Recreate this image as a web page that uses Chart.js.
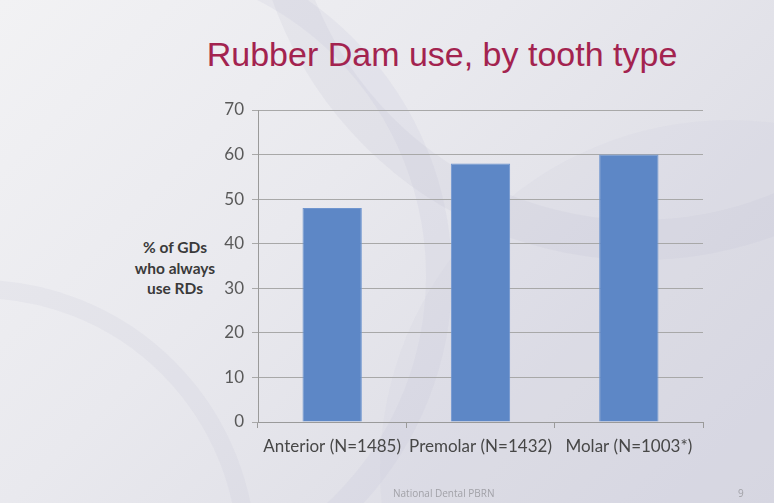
<!DOCTYPE html>
<html>
<head>
<meta charset="utf-8">
<script src="https://cdn.jsdelivr.net/npm/chart.js@4"></script>
<style>
  html, body { margin: 0; padding: 0; }
  body { width: 774px; height: 503px; position: relative; overflow: hidden;
         background: linear-gradient(135deg, #f2f2f4 0%, #e9e9ee 40%, #dedee6 75%, #d8d8e2 100%); }
  .swirl { position: absolute; border-radius: 50%; }
  #title { position: absolute; left: 0; width: 884px; top: 35px; text-align: center;
           font: 34px "Liberation Sans", Arial, sans-serif; color: #a3234f; }
  #ylab { position: absolute; left: 115px; width: 120px; top: 237px; text-align: center;
          font: bold 15.5px Lato, sans-serif; line-height: 20.5px; color: #3a3a3a; }
  #foot { position: absolute; left: 393px; top: 486px; font: 10px "Open Sans", sans-serif; color: #a2a2a8; }
  #page { position: absolute; left: 738px; top: 486px; font: 10px "Open Sans", sans-serif; color: #a2a2a8; }
  #wrap { position: absolute; left: 0; top: 0; width: 774px; height: 503px; }
</style>
</head>
<body>
<div class="swirl" style="left:-220px;top:-60px;width:620px;height:620px;border:26px solid rgba(195,195,215,0.18);"></div>
<div class="swirl" style="left:250px;top:-520px;width:700px;height:700px;border:40px solid rgba(185,185,208,0.16);"></div>
<div class="swirl" style="left:380px;top:120px;width:700px;height:700px;background:rgba(205,205,222,0.18);"></div>
<div class="swirl" style="left:-300px;top:280px;width:520px;height:520px;border:18px solid rgba(190,190,212,0.16);"></div>
<div id="title">Rubber Dam use, by tooth type</div>
<div id="ylab">% of GDs<br>who always<br>use RDs</div>
<div id="wrap"><canvas id="c" width="774" height="503"></canvas></div>
<div id="foot">National Dental PBRN</div>
<div id="page">9</div>
<script>
// 資料
const categories = ['Anterior (N=1485)', 'Premolar (N=1432)', 'Molar (N=1003*)'];
const values = [48, 58, 60];
const yTicks = [0, 10, 20, 30, 40, 50, 60, 70];

const ctx = document.getElementById('c');
const chart = new Chart(ctx, {
  type: 'bar',
  data: {
    labels: categories,
    datasets: [{
      data: values,
      backgroundColor: '#5d87c6',
      borderColor: '#6f95cf',
      borderWidth: 1,
      barPercentage: 0.4,
      categoryPercentage: 1.0
    }]
  },
  options: {
    responsive: false,
    animation: false,
    layout: { padding: { left: 0, right: 71, top: 110, bottom: 0 } },
    plugins: { legend: false, tooltip: { enabled: false } },
    scales: {
      x: {
        offset: true,
        grid: { offset: true, drawOnChartArea: false, color: '#9a9a9a', tickLength: 6 },
        border: { color: '#9a9a9a' },
        ticks: { color: '#474747', font: { family: 'Lato', size: 17 }, padding: 8, maxRotation: 0, autoSkip: false },
        afterFit: s => { s.height = 81; }
      },
      y: {
        min: 0, max: 70,
        afterBuildTicks: s => { s.ticks = yTicks.map(v => ({ value: v })); },
        grid: { color: '#a8a8a8', tickLength: 6 },
        border: { color: '#9a9a9a' },
        ticks: { color: '#595959', font: { family: 'Lato', size: 17 }, padding: 8 },
        afterFit: s => { s.width = 258; }
      }
    }
  }
});
</script>
</body>
</html>
